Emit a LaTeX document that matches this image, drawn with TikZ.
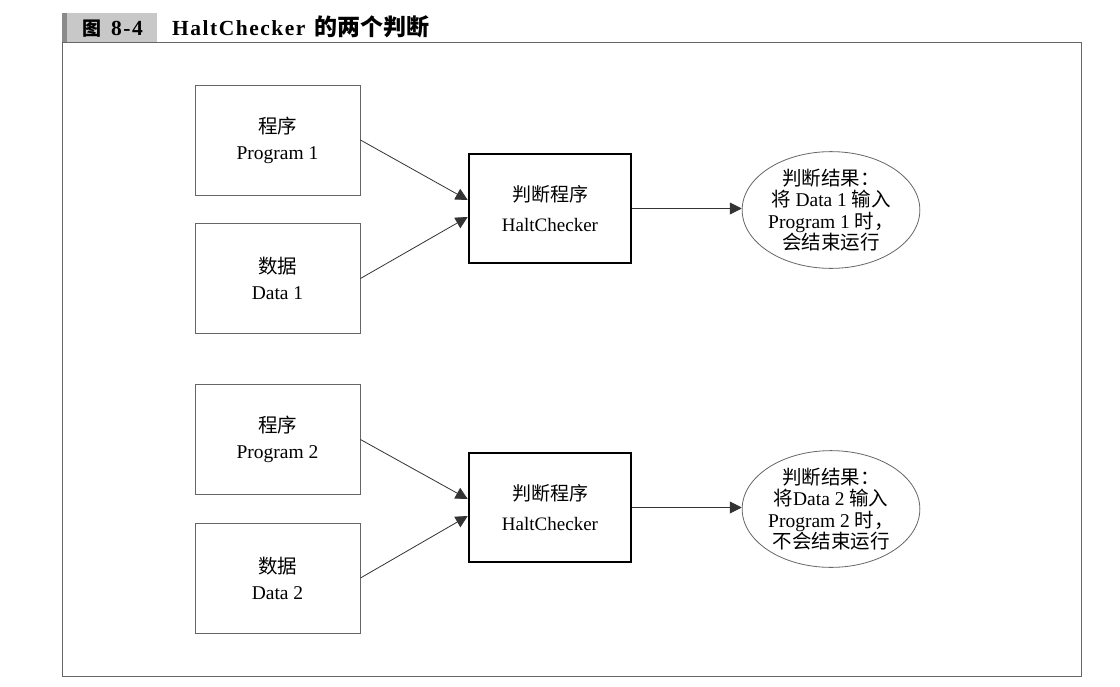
\documentclass[tikz,border=0pt]{standalone}
\usepackage{fontspec}
\setmainfont{Liberation Serif}
\newfontfamily\cjk{Noto Sans CJK SC}
\newfontfamily\titlefont[LetterSpace=7]{Liberation Serif}
\newcommand{\cj}[1]{{\cjk #1}}
\usetikzlibrary{arrows.meta,shapes.geometric}
\definecolor{boxline}{HTML}{666666}
\definecolor{titlegray}{HTML}{C8C8C8}
\definecolor{stripe}{HTML}{8A8A8A}
\tikzset{
  inbox/.style={draw=boxline, line width=0.9pt, minimum width=165pt, minimum height=110pt, align=center, font=\fontsize{19.5}{26}\selectfont, inner sep=0pt},
  haltbox/.style={draw=black, line width=2.6pt, minimum width=162pt, minimum height=109pt, align=center, font=\fontsize{19}{30}\selectfont, inner sep=0pt},
  result/.style={draw=boxline, line width=0.8pt, ellipse, minimum width=174pt, minimum height=112pt, align=center, font=\fontsize{19.5}{21.5}\selectfont, inner sep=0pt},
  conn/.style={draw=black!80, line width=0.8pt, -{Triangle[length=12pt,width=12pt]}},
}
\begin{document}
\begin{tikzpicture}[x=1pt,y=-1pt]
\useasboundingbox (0,0) rectangle (1120,686);
\fill[white] (0,0) rectangle (1120,686);
% title bar
\fill[titlegray] (62,13) rectangle (157,42);
\fill[stripe] (62,13) rectangle (67,42);
\node[anchor=base west, inner sep=0pt, font=\fontsize{21.5}{21.5}\selectfont\bfseries] (tnum) at (82,35) {\cj{\fontsize{19}{19}\selectfont 图}\hspace{10pt}{\titlefont 8-4}};
\node[anchor=base west, inner sep=0pt, font=\fontsize{21.5}{21.5}\selectfont] (ttext) at (172,35) {{\titlefont\bfseries HaltChecker}\hspace{9pt}\cj{\fontsize{23}{23}\selectfont\bfseries 的两个判断}};
% frame
\draw[boxline, line width=0.9pt] (62,42) rectangle (1081,676);

% set 1
\node[inbox] (p1) at (277.5,140) {\cj{程序}\\Program 1};
\node[inbox] (d1) at (277.5,278.5) {\cj{数据}\\Data 1};
\node[haltbox] (h1) at (550,208.5) {\cj{判断程序}\\HaltChecker};
\node[result] (e1) at (831,210) {\cj{判断结果：}\\\cj{将} Data 1 \cj{输入}\\Program 1 \cj{时，}\\\cj{会结束运行}};
\draw[conn] (p1.east) -- ([yshift=8.5pt]h1.west);
\draw[conn] (d1.east) -- ([yshift=-8.5pt]h1.west);
\draw[conn] (h1.east) -- (h1.east -| e1.west);

% set 2
\node[inbox] (p2) at (277.5,439.5) {\cj{程序}\\Program 2};
\node[inbox] (d2) at (277.5,578) {\cj{数据}\\Data 2};
\node[haltbox] (h2) at (550,507.5) {\cj{判断程序}\\HaltChecker};
\node[result] (e2) at (831,509) {\cj{判断结果：}\\\cj{将}Data 2 \cj{输入}\\Program 2 \cj{时，}\\\cj{不会结束运行}};
\draw[conn] (p2.east) -- ([yshift=8.5pt]h2.west);
\draw[conn] (d2.east) -- ([yshift=-8.5pt]h2.west);
\draw[conn] (h2.east) -- (h2.east -| e2.west);
\end{tikzpicture}
\end{document}
